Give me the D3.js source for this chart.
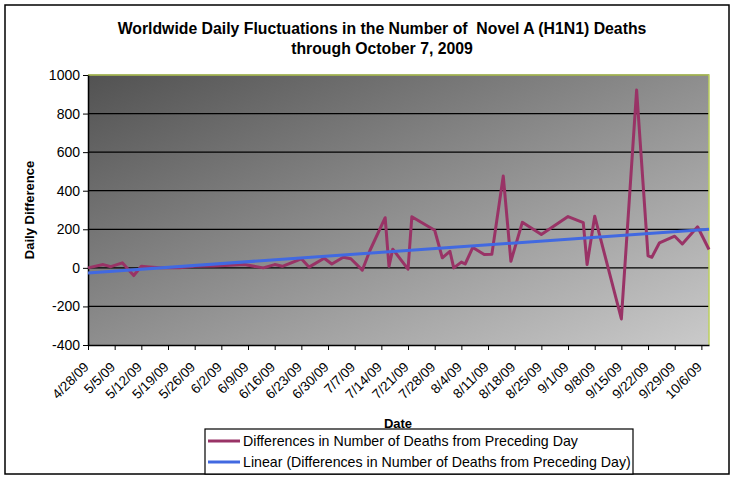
<!DOCTYPE html>
<html>
<head>
<meta charset="utf-8">
<script src="https://cdnjs.cloudflare.com/ajax/libs/d3/7.8.5/d3.min.js"></script>
<style>
  body { margin: 0; background: #fff; }
  svg { font-family: "Liberation Sans", Arial, sans-serif; }
</style>
</head>
<body>
<div class="h1n1-chart"></div>
<script>
"use strict";

// reporting dates and daily differences
var dates = ["4/28/09","5/2/09","5/4/09","5/7/09","5/10/09","5/12/09","5/14/09","5/17/09",
  "5/22/09","5/26/09","5/31/09","6/3/09","6/8/09","6/13/09","6/16/09","6/18/09","6/23/09",
  "6/25/09","6/29/09","7/1/09","7/4/09","7/6/09","7/9/09","7/11/09","7/15/09","7/16/09",
  "7/17/09","7/21/09","7/22/09","7/28/09","7/30/09","8/1/09","8/2/09","8/4/09","8/5/09",
  "8/7/09","8/10/09","8/12/09","8/15/09","8/17/09","8/20/09","8/25/09","9/1/09","9/5/09",
  "9/6/09","9/8/09","9/15/09","9/19/09","9/22/09","9/23/09","9/25/09","9/29/09","10/1/09",
  "10/5/09","10/8/09"];
var diffs = [0,17,6,26,-40,8,5,0,
  0,8,10,12,17,0,17,8,47,
  4,50,20,55,47,-12,90,260,8,
  97,-7,265,195,52,86,0,30,20,
  106,69,70,476,34,236,173,266,234,
  17,268,-265,922,62,55,130,164,124,
  213,95];

var xTickLabels = ["4/28/09","5/5/09","5/12/09","5/19/09","5/26/09","6/2/09","6/9/09","6/16/09",
  "6/23/09","6/30/09","7/7/09","7/14/09","7/21/09","7/28/09","8/4/09","8/11/09","8/18/09",
  "8/25/09","9/1/09","9/8/09","9/15/09","9/22/09","9/29/09","10/6/09"];
var yTicks = [-400,-200,0,200,400,600,800,1000];
var xDomain = ["4/28/09","10/8/09"];

var seriesName = "Differences in Number of Deaths from Preceding Day";
var trendName = "Linear (Differences in Number of Deaths from Preceding Day)";

var width = 736, height = 480;
var plot = {left: 88, right: 709, top: 75, bottom: 345};

var parse = d3.utcParse("%m/%d/%y"),
    fmt = d3.utcFormat("%-m/%-d/%y");

var points = dates.map(function(d, i){ return {date: parse(d), value: diffs[i]}; });

var x = d3.scaleUtc()
    .domain(xDomain.map(parse))
    .range([plot.left, plot.right]);
var y = d3.scaleLinear()
    .domain([d3.min(yTicks), d3.max(yTicks)])
    .range([plot.bottom, plot.top]);

var svg = d3.select(".h1n1-chart").append("svg")
    .attr("width", width)
    .attr("height", height);

// gray gradient of the plot area
var grad = svg.append("defs").append("linearGradient")
    .attr("id", "plotBg")
    .attr("x1", 0).attr("y1", 0).attr("x2", 1).attr("y2", 1);
grad.append("stop").attr("offset", "0%").attr("stop-color", "#525252");
grad.append("stop").attr("offset", "100%").attr("stop-color", "#cacaca");

// outer frame
svg.append("rect")
    .attr("x", 5).attr("y", 5)
    .attr("width", 724).attr("height", 469)
    .attr("fill", "#fff")
    .attr("stroke", "#000")
    .attr("stroke-width", 1.5);

// title
var title = svg.append("text")
    .attr("x", 382)
    .attr("text-anchor", "middle")
    .style("font-weight", "bold")
    .style("font-size", "15.8px")
    .style("white-space", "pre");
title.append("tspan").attr("x", 382).attr("y", 34)
    .text("Worldwide Daily Fluctuations in the Number of  Novel A (H1N1) Deaths");
title.append("tspan").attr("x", 382).attr("y", 54)
    .text("through October 7, 2009");

svg.append("rect")
    .attr("x", plot.left).attr("y", plot.top)
    .attr("width", plot.right - plot.left)
    .attr("height", plot.bottom - plot.top)
    .attr("fill", "url(#plotBg)");

// gridlines
svg.append("g").attr("class", "grid")
    .selectAll("line")
    .data(yTicks.filter(function(d){ return d > -400; }))
    .enter().append("line")
    .attr("x1", plot.left).attr("x2", plot.right)
    .attr("y1", function(d){ return y(d); })
    .attr("y2", function(d){ return y(d); })
    .attr("stroke", "#000")
    .attr("stroke-width", 1.2);

// plot border top/right
svg.append("path")
    .attr("d", "M" + plot.left + "," + plot.top + "H" + plot.right + "V" + plot.bottom)
    .attr("fill", "none")
    .attr("stroke", "#bccf5e")
    .attr("stroke-width", 1.5);

// y axis
var yAxis = svg.append("g")
    .attr("transform", "translate(" + plot.left + ",0)")
    .call(d3.axisLeft(y).tickValues(yTicks)
      .tickFormat(function(d){ return String(d); })
      .tickSize(5).tickPadding(3).tickSizeOuter(0));
yAxis.select(".domain").attr("stroke", "#000").attr("stroke-width", 1.5);
yAxis.selectAll("text")
    .style("font-size", "14px")
    .style("font-family", "Liberation Sans, Arial, sans-serif")
    .attr("fill", "#000");

// x axis
var xAxis = svg.append("g")
    .attr("transform", "translate(0," + plot.bottom + ")")
    .call(d3.axisBottom(x)
      .tickValues(xTickLabels.map(parse))
      .tickFormat(fmt)
      .tickSize(5)
      .tickSizeOuter(0));
xAxis.select(".domain").attr("stroke", "#000").attr("stroke-width", 1.5);
xAxis.selectAll("text")
    .attr("x", 0).attr("y", 0).attr("dy", 0)
    .attr("text-anchor", "end")
    .attr("transform", "translate(1,23) rotate(-45)")
    .style("font-size", "13.5px")
    .style("font-family", "Liberation Sans, Arial, sans-serif")
    .attr("fill", "#000");

// axis titles
svg.append("text")
    .attr("transform", "translate(34," + ((plot.top + plot.bottom) / 2) + ") rotate(-90)")
    .attr("text-anchor", "middle")
    .style("font-weight", "bold")
    .style("font-size", "13px")
    .text("Daily Difference");
svg.append("text")
    .attr("x", 398).attr("y", 428)
    .attr("text-anchor", "middle")
    .style("font-weight", "bold")
    .style("font-size", "13px")
    .text("Date");

// least squares trend, like the spreadsheet's linear trendline
var xs = points.map(function(d){ return +d.date; }),
    mx = d3.mean(xs), my = d3.mean(diffs);
var slope = d3.sum(points, function(d){ return (+d.date - mx) * (d.value - my); }) /
            d3.sum(xs, function(v){ return (v - mx) * (v - mx); });
var trend = x.domain().map(function(t){ return {date: t, value: my + slope * (+t - mx)}; });

var line = d3.line()
    .x(function(d){ return x(d.date); })
    .y(function(d){ return y(d.value); });

svg.append("path")
    .datum(points)
    .attr("d", line)
    .attr("fill", "none")
    .attr("stroke", "#993366")
    .attr("stroke-width", 3)
    .attr("stroke-linejoin", "round");

svg.append("path")
    .datum(trend)
    .attr("d", line)
    .attr("fill", "none")
    .attr("stroke", "#4169e1")
    .attr("stroke-width", 3);

// legend
var legend = svg.append("g").attr("class", "legend");
legend.append("rect")
    .attr("x", 205).attr("y", 429)
    .attr("width", 428).attr("height", 45)
    .attr("fill", "#fff")
    .attr("stroke", "#000")
    .attr("stroke-width", 1.2);
var items = legend.selectAll(".item")
    .data([{name: seriesName, color: "#993366"}, {name: trendName, color: "#4169e1"}])
    .enter().append("g").attr("class", "item")
    .attr("transform", function(d, i){ return "translate(208," + (441 + i * 21) + ")"; });
items.append("line")
    .attr("x1", 0).attr("x2", 32)
    .attr("stroke", function(d){ return d.color; })
    .attr("stroke-width", 3);
items.append("text")
    .attr("x", 35).attr("dy", "0.35em")
    .style("font-size", "14.2px")
    .text(function(d){ return d.name; });
</script>
</body>
</html>
